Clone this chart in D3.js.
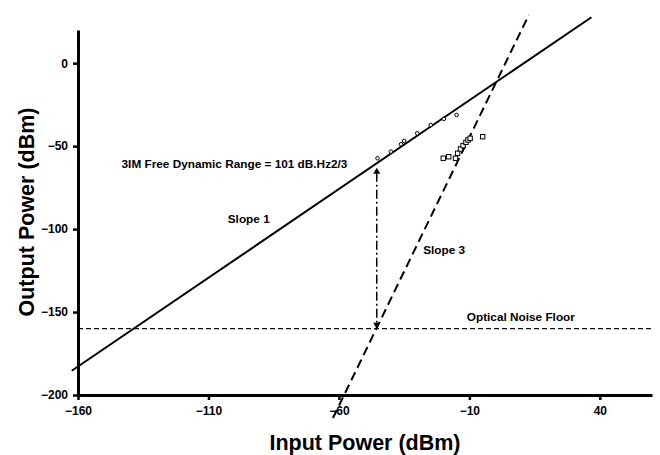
<!DOCTYPE html>
<html>
<head>
<meta charset="utf-8">
<script src="https://cdn.jsdelivr.net/npm/d3@7"></script>
<style>
  body { margin: 0; background: #fff; }
  svg { display: block; font-family: "Liberation Sans", Arial, sans-serif; font-weight: bold; }
</style>
</head>
<body>
<div id="chart"></div>
<script>

// Data
// ========================

const xTicks = [-160, -110, -60, -10, 40];
const yTicks = [-200, -150, -100, -50, 0];

// fundamental output (circles) and 3rd order IMD output (squares)
const fundIn  = [-45.2, -40.1, -36.2, -35.0, -30.0, -24.8, -19.8, -14.9];
const fundOut = [-57.3, -53.3, -48.9, -46.9, -42.3, -37.3, -33.6, -31.2];
const imdIn   = [-20.0, -17.9, -15.3, -14.5, -13.4, -12.4, -11.3, -10.5, -9.7, -4.9];
const imdOut  = [-57.3, -56.4, -57.3, -54.3, -51.7, -49.7, -47.7, -46.3, -45.3, -44.3];

// fitted lines, [input, output] end points
const slope1Line = [[-162.4, -185.4], [36.8, 27.7]];
const slope3Line = [[-62.3, -213.9], [12.8, 29.1]];

const noiseFloor = -160;
const dynRangeX = -45.5;
const dynRangeTop = -63;

const labels = [
  { text: "3IM Free Dynamic Range = 101 dB.Hz2/3", x: -143.3, y: -63.2 },
  { text: "Slope 1", x: -102.6, y: -96.3 },
  { text: "Slope 3", x: -27.7, y: -115.2 },
  { text: "Optical Noise Floor", x: -11.0, y: -155.2 },
];


// Chart
// =====

const W = 660, H = 455;

const x = d3.scaleLinear().domain([-160, 60]).range([78, 652]);
const y = d3.scaleLinear().domain([-200, 20]).range([395, 30]);

const svg = d3.select('#chart').append('svg')
  .attr('width', W)
  .attr('height', H);

const line = d3.line().x(d => x(d[0])).y(d => y(d[1]));

// noise floor
svg.append('path')
  .attr('d', line([[-160, noiseFloor], [60, noiseFloor]]))
  .attr('fill', 'none')
  .attr('stroke', '#111')
  .attr('stroke-width', 1.4)
  .attr('stroke-dasharray', '5,3');

// slope 1
svg.append('path')
  .attr('d', line(slope1Line))
  .attr('fill', 'none')
  .attr('stroke', '#000')
  .attr('stroke-width', 2);

// slope 3
svg.append('path')
  .attr('d', line(slope3Line))
  .attr('fill', 'none')
  .attr('stroke', '#000')
  .attr('stroke-width', 2)
  .attr('stroke-dasharray', '9,5');

// dynamic range arrow
const ax = x(dynRangeX), aTop = y(dynRangeTop), aBot = y(noiseFloor);
svg.append('line')
  .attr('x1', ax).attr('x2', ax)
  .attr('y1', aTop + 5).attr('y2', aBot - 5)
  .attr('stroke', '#000')
  .attr('stroke-width', 1.5)
  .attr('stroke-dasharray', '9,3,2,3');
svg.append('path')
  .attr('d', `M${ax},${aTop} L${ax - 3.5},${aTop + 6} L${ax + 3.5},${aTop + 6} Z`)
  .attr('fill', '#000');
svg.append('path')
  .attr('d', `M${ax},${aBot} L${ax - 3.5},${aBot - 6} L${ax + 3.5},${aBot - 6} Z`)
  .attr('fill', '#000');

// markers
svg.append('g')
  .selectAll('circle').data(d3.zip(fundIn, fundOut))
  .enter()
  .append('circle')
    .attr('cx', d => x(d[0]))
    .attr('cy', d => y(d[1]))
    .attr('r', 1.8)
    .attr('fill', '#fff')
    .attr('stroke', '#000')
    .attr('stroke-width', 1);

svg.append('g')
  .selectAll('rect').data(d3.zip(imdIn, imdOut))
  .enter()
  .append('rect')
    .attr('x', d => x(d[0]) - 2.2)
    .attr('y', d => y(d[1]) - 2.2)
    .attr('width', 4.4)
    .attr('height', 4.4)
    .attr('fill', '#fff')
    .attr('stroke', '#000')
    .attr('stroke-width', 1);

// axes
const xAxis = svg.append('g')
  .attr('transform', `translate(0,${y(-200)})`)
  .call(d3.axisBottom(x).tickValues(xTicks).tickSize(5).tickSizeOuter(0).tickPadding(6));
const yAxis = svg.append('g')
  .attr('transform', `translate(${x(-160)},0)`)
  .call(d3.axisLeft(y).tickValues(yTicks).tickSize(5).tickSizeOuter(0).tickPadding(5));

[xAxis, yAxis].forEach(g => {
  g.select('.domain').attr('stroke', '#000').attr('stroke-width', 3);
  g.selectAll('.tick line').attr('stroke', '#000').attr('stroke-width', 2.5);
  g.selectAll('.tick text')
    .attr('fill', '#000')
    .attr('font-size', 12)
    .attr('font-family', '"Liberation Sans", Arial, sans-serif')
    .attr('font-weight', 'bold');
});

// annotations
svg.append('g')
  .selectAll('text').data(labels)
  .enter()
  .append('text')
    .attr('x', d => x(d.x))
    .attr('y', d => y(d.y))
    .attr('font-size', 11.8)
    .attr('fill', '#000')
    .text(d => d.text);

// axis titles
svg.append('text')
  .attr('x', 365)
  .attr('y', 450)
  .attr('text-anchor', 'middle')
  .attr('font-size', 21.5)
  .text('Input Power (dBm)');

svg.append('text')
  .attr('transform', 'translate(34,212) rotate(-90)')
  .attr('text-anchor', 'middle')
  .attr('font-size', 21.5)
  .text('Output Power (dBm)');

</script>
</body>
</html>
